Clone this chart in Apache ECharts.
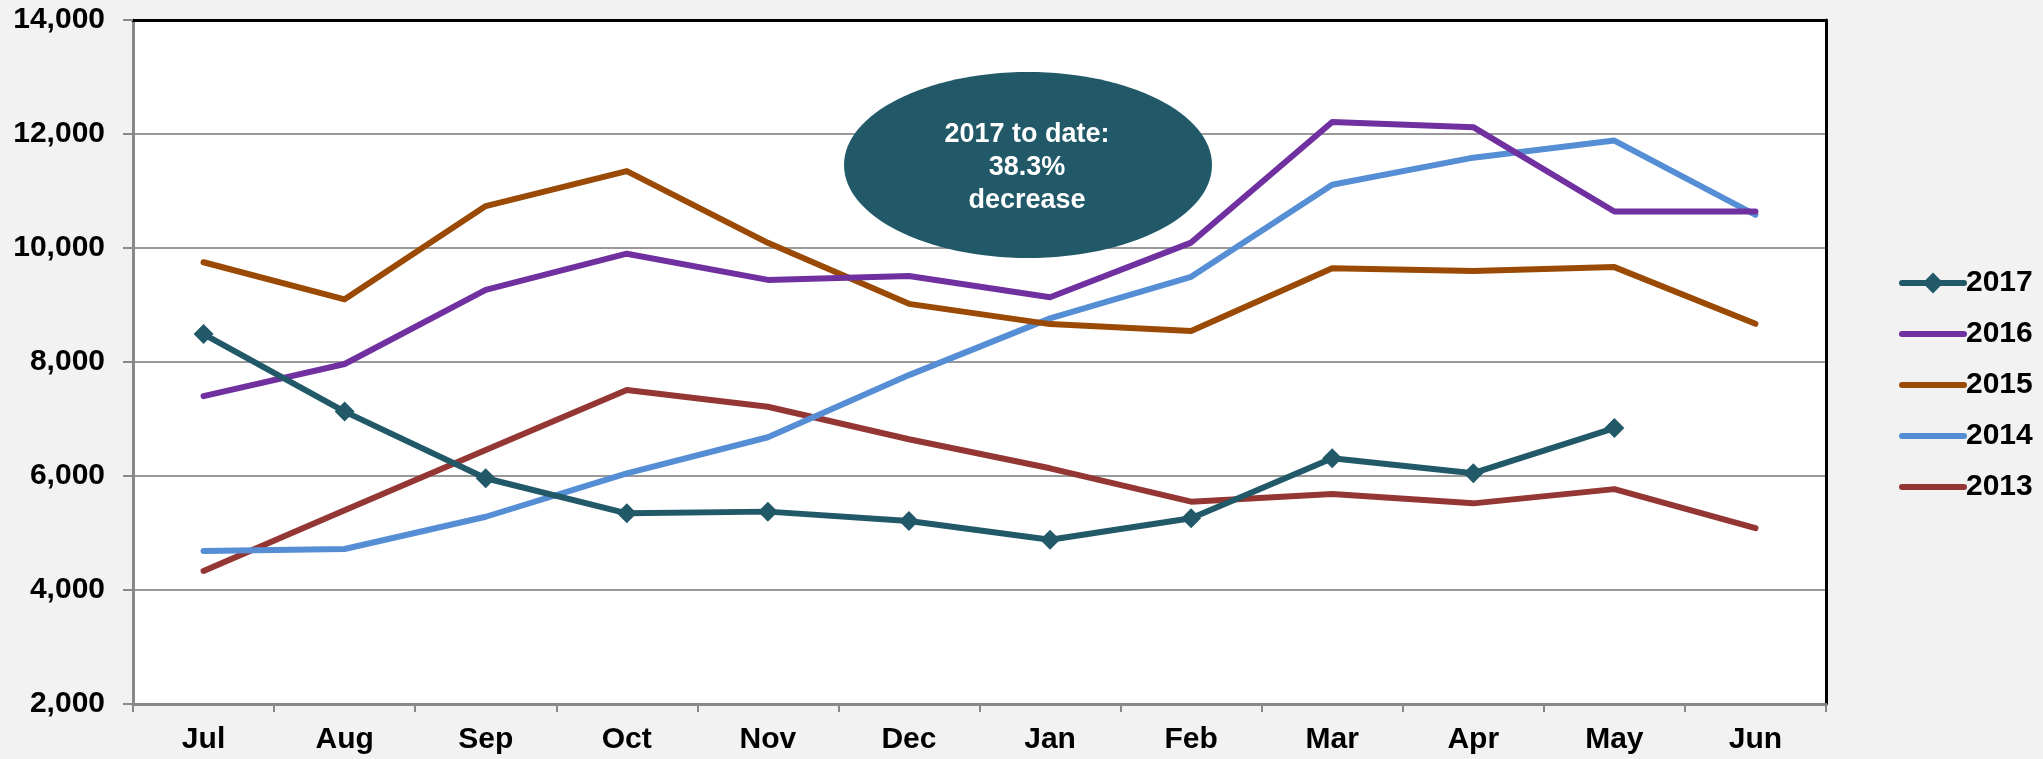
<!DOCTYPE html>
<html>
<head>
<meta charset="utf-8">
<script src="https://cdn.jsdelivr.net/npm/echarts@6/dist/echarts.min.js"></script>
<style>
html,body{margin:0;padding:0;background:#f2f2f2;}
#chart{width:2043px;height:759px;}
</style>
</head>
<body>
<div id="chart"></div>
<script>
var categories = ['Jul','Aug','Sep','Oct','Nov','Dec','Jan','Feb','Mar','Apr','May','Jun'];
var yTicks = [2000, 4000, 6000, 8000, 10000, 12000, 14000];
var s2017 = [8490, 7130, 5960, 5345, 5375, 5210, 4880, 5260, 6310, 6050, 6840, null];
var s2016 = [7400, 7965, 9265, 9900, 9440, 9510, 9135, 10095, 12210, 12120, 10640, 10640];
var s2015 = [9750, 9100, 10735, 11350, 10090, 9020, 8665, 8545, 9645, 9595, 9665, 8670];
var s2014 = [4685, 4720, 5285, 6045, 6680, 7770, 8765, 9495, 11110, 11585, 11885, 10580];
var s2013 = [4335, 5400, 6455, 7510, 7215, 6645, 6135, 5550, 5685, 5520, 5770, 5085];
var noteLines = ['2017 to date:', '38.3%', 'decrease'];

var font = 'Liberation Sans, Arial, sans-serif';
var chart = echarts.init(document.getElementById('chart'));

function lineSeries(name, data, color, withMarker) {
  return {
    name: name, type: 'line', data: data,
    xAxisIndex: 0, yAxisIndex: 0,
    symbol: withMarker ? 'diamond' : 'none',
    symbolSize: 20,
    showSymbol: !!withMarker,
    itemStyle: {color: color},
    lineStyle: {color: color, width: 6, cap: 'round', join: 'round'},
    emphasis: {disabled: true},
    animation: false
  };
}

var axisLabelStyle = {fontFamily: font, fontSize: 30, fontWeight: 'bold', color: '#000'};

chart.setOption({
  backgroundColor: '#f2f2f2',
  animation: false,
  grid: {
    left: 133, right: 217, top: 20, bottom: 55,
    show: true, backgroundColor: '#ffffff', borderWidth: 0
  },
  legend: {
    orient: 'vertical',
    left: 1894, top: 263,
    itemWidth: 62, itemHeight: 26, itemGap: 21,
    lineStyle: {width: 6},
    textStyle: {fontFamily: font, fontSize: 30, fontWeight: 'bold', color: '#000', padding: [0,0,0,-3]},
    data: [
      {name: '2017'},
      {name: '2016', itemStyle: {opacity: 0}},
      {name: '2015', itemStyle: {opacity: 0}},
      {name: '2014', itemStyle: {opacity: 0}},
      {name: '2013', itemStyle: {opacity: 0}}
    ]
  },
  xAxis: [{
    type: 'category', data: categories, boundaryGap: true,
    axisLine: {lineStyle: {color: '#888888', width: 3}},
    axisTick: {show: true, length: 8, lineStyle: {color: '#888888', width: 2}},
    axisLabel: Object.assign({margin: 21}, axisLabelStyle)
  }, {
    type: 'category', data: categories, position: 'top',
    axisLine: {show: true, lineStyle: {color: '#000000', width: 3}},
    axisTick: {show: false}, axisLabel: {show: false}, splitLine: {show: false}
  }],
  yAxis: [{
    type: 'value', min: yTicks[0], max: yTicks[yTicks.length-1], interval: 2000,
    axisLine: {show: true, lineStyle: {color: '#888888', width: 3}},
    axisTick: {show: true, length: 10, lineStyle: {color: '#888888', width: 2}},
    splitLine: {lineStyle: {color: '#999999', width: 2}},
    axisLabel: Object.assign({
      margin: 28,
      formatter: function (v) { return v.toLocaleString('en-US'); }
    }, axisLabelStyle)
  }, {
    type: 'value', min: yTicks[0], max: yTicks[yTicks.length-1], interval: 2000, position: 'right',
    axisLine: {show: true, lineStyle: {color: '#000000', width: 3}},
    axisTick: {show: false}, axisLabel: {show: false}, splitLine: {show: false}
  }],
  graphic: [
    {
      type: 'ellipse', z: 100,
      shape: {cx: 1028, cy: 165, rx: 184, ry: 93},
      style: {fill: '#215968'}
    },
    {
      type: 'text', z: 101, x: 1027, y: 168,
      style: {
        text: noteLines.join('\n'),
        fill: '#ffffff', font: 'bold 27px ' + font,
        align: 'center', verticalAlign: 'middle', lineHeight: 33
      }
    }
  ],
  series: [
    lineSeries('2013', s2013, '#943634', false),
    lineSeries('2014', s2014, '#558ED5', false),
    lineSeries('2015', s2015, '#9A4A04', false),
    lineSeries('2016', s2016, '#7030A0', false),
    lineSeries('2017', s2017, '#215968', true)
  ]
});
</script>
</body>
</html>
